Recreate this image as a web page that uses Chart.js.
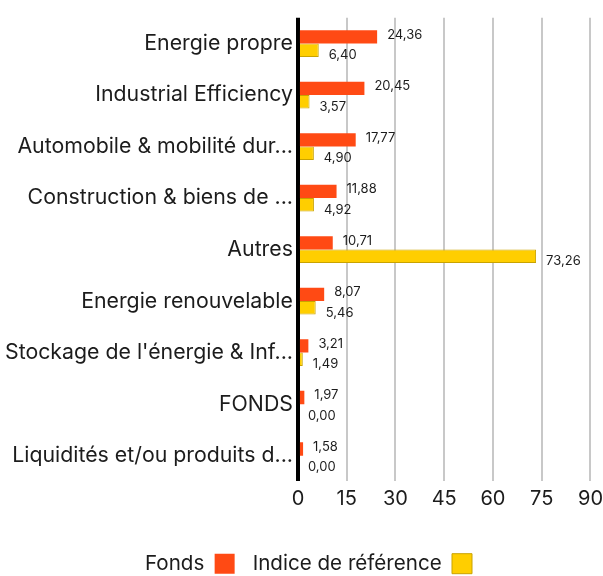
<!DOCTYPE html>
<html>
<head>
  <title>Répartition sectorielle</title>
  <script src="https://cdn.jsdelivr.net/npm/chart.js@4/dist/chart.umd.min.js"></script>
  <style>
    body { margin: 0; background: #fff; }
    #wrap { width: 603px; height: 576px; position: relative; }
  </style>
</head>
<body>
  <div id="wrap"><canvas id="chart"></canvas></div>
  <script>
    var categories = [
      'Energie propre',
      'Industrial Efficiency',
      'Automobile & mobilité dur...',
      'Construction & biens de ...',
      'Autres',
      'Energie renouvelable',
      "Stockage de l'énergie & Inf...",
      'FONDS',
      'Liquidités et/ou produits d...'
    ];
    var fonds = [24.36, 20.45, 17.77, 11.88, 10.71, 8.07, 3.21, 1.97, 1.58];
    var indice = [6.40, 3.57, 4.90, 4.92, 73.26, 5.46, 1.49, 0.00, 0.00];
    var xTicks = [0, 15, 30, 45, 60, 75, 90];

    var fontFamily = 'Inter, "Noto Sans", sans-serif';
    var textColor = '#1c1c1c';

    function fmt(v) { return v.toFixed(2).replace('.', ','); }

    // writes the value next to each bar
    var valueLabels = {
      id: 'valueLabels',
      afterDatasetsDraw: function(chart) {
        var ctx = chart.ctx;
        ctx.save();
        ctx.font = '13px ' + fontFamily;
        ctx.fillStyle = textColor;
        ctx.textAlign = 'left';
        ctx.textBaseline = 'middle';
        chart.data.datasets.forEach(function(ds, i) {
          var meta = chart.getDatasetMeta(i);
          meta.data.forEach(function(bar, j) {
            var dy = i === 0 ? -2 : 5;
            ctx.fillText(fmt(ds.data[j]), bar.x + 10, bar.y + dy);
          });
        });
        ctx.restore();
      }
    };

    // legend sits a little right of the canvas centre in the original
    var legendShift = {
      id: 'legendShift',
      afterLayout: function(chart) {
        if (chart.legend) {
          chart.legend.left += 8;
          chart.legend.right += 8;
        }
      }
    };

    new Chart(document.getElementById('chart'), {
      type: 'bar',
      data: {
        labels: categories,
        datasets: [
          {
            label: 'Fonds',
            data: fonds,
            backgroundColor: '#ff4a14',
            borderWidth: 0
          },
          {
            label: 'Indice de référence',
            data: indice,
            backgroundColor: '#ffce00',
            borderColor: '#c9a300',
            borderWidth: 1
          }
        ]
      },
      options: {
        indexAxis: 'y',
        responsive: true,
        maintainAspectRatio: false,
        animation: false,
        layout: { padding: { top: -4, right: 2, left: 0, bottom: -8 } },
        datasets: { bar: { categoryPercentage: 0.52, barPercentage: 1 } },
        scales: {
          x: {
            min: 0,
            max: 90,
            afterBuildTicks: function(axis) {
              axis.ticks = xTicks.map(function(v) { return { value: v }; });
            },
            afterFit: function(axis) { axis.height = 54; },
            border: { display: false },
            grid: {
              color: function(c) { return c.tick && c.tick.value === 0 ? '#000' : '#c8c8c8'; },
              lineWidth: function(c) { return c.tick && c.tick.value === 0 ? 4 : 2; },
              drawTicks: true,
              tickLength: 6,
              tickColor: 'rgba(0,0,0,0)'
            },
            ticks: {
              color: textColor,
              font: { size: 20, family: fontFamily },
              padding: 0
            }
          },
          y: {
            border: { display: false },
            grid: { display: false, drawTicks: false },
            ticks: {
              color: textColor,
              font: { size: 21.3, family: fontFamily },
              padding: 5
            }
          }
        },
        plugins: {
          legend: {
            position: 'bottom',
            rtl: true,
            reverse: true,
            labels: {
              color: textColor,
              font: { size: 20.6, family: fontFamily },
              boxWidth: 20,
              boxHeight: 20,
              padding: 18
            }
          },
          tooltip: { enabled: false }
        }
      },
      plugins: [valueLabels, legendShift]
    });
  </script>
</body>
</html>
